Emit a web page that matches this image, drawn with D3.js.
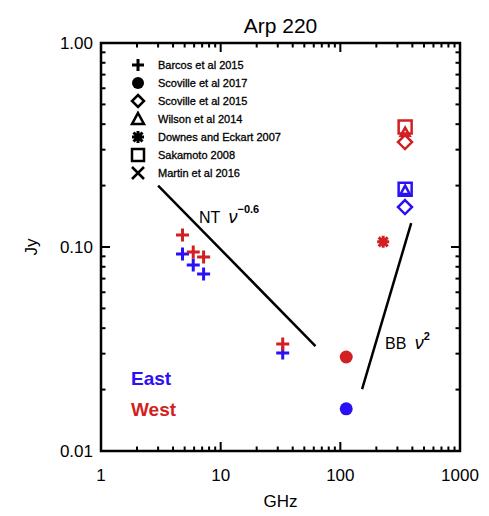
<!DOCTYPE html>
<html>
<head>
<meta charset="utf-8">
<script src="https://cdn.jsdelivr.net/npm/d3@7"></script>
<style>
  body { margin: 0; background: #fff; }
  svg text { font-family: "Liberation Sans", Arial, sans-serif; }
</style>
</head>
<body>
<div id="chart"></div>
<script>
/*
    ARP 220 SED
*/

// Barcos et al 2015 (VLA)
const barcosFreq = [4.8, 5.9, 7.2, 33]
const barcosEast = [0.0924, 0.0816, 0.0738, 0.0302]
const barcosWest = [0.1145, 0.0945, 0.0893, 0.0335]
// Scoville et al 2017
const scov17Freq = [112]
const scov17East = [0.0161]
const scov17West = [0.0289]
// Scoville et al 2015
const scov15Freq = [347]
const scov15East = [0.157]
const scov15West = [0.327]
// Wilson et al 2014
const wilsonFreq = [348]
const wilsonEast = [0.19]
const wilsonWest = [0.366]
// Downes and Eckart 2007 (west only)
const downesFreq = [228]
const downesWest = [0.106]
// Sakamoto 2008
const sakaFreq = [348]
const sakaEast = [0.192]
const sakaWest = [0.388]

// guide lines
const ntFreq = [3.0, 62]
const ntFlux = [0.2, 0.0327]
const bbFreq = [152, 391]
const bbFlux = [0.0201, 0.131]

const legendLabels = ["Barcos et al 2015", "Scoville et al 2017", "Scoville et al 2015",
    "Wilson et al 2014", "Downes and Eckart 2007", "Sakamoto 2008", "Martin et al 2016"]
const legendSymbols = ["plus", "circle", "diamond", "triangle", "asterisk", "square", "cross"]

const xTicks = [1, 10, 100, 1000]
const yTicks = [0.01, 0.1, 1]

const EAST = "#2a10f5", WEST = "#d21f22"

var width = 489, height = 516
const margin = ({ top: 43, right: 29, bottom: 65, left: 101 })

var svg = d3.select("#chart").append("svg")
    .attr("width", width)
    .attr("height", height)

var x = d3.scaleLog().domain([1, 1000]).range([margin.left, width - margin.right])
var y = d3.scaleLog().domain([0.01, 1]).range([height - margin.bottom, margin.top])

// symbol path generators (centered at 0,0)
const symbolPath = (type, s) => {
    switch (type) {
        case "plus": return `M${-s},0H${s}M0,${-s}V${s}`
        case "cross": return `M${-s},${-s}L${s},${s}M${-s},${s}L${s},${-s}`
        case "diamond": return `M0,${-s}L${s},0L0,${s}L${-s},0Z`
        case "square": return `M${-s},${-s}H${s}V${s}H${-s}Z`
        case "triangle": return `M0,${-s}L${s},${s * 0.85}H${-s}Z`
        case "asterisk": {
            let d = `M${-s},0H${s}M0,${-s}V${s}`
            const a = s * 0.75
            return d + `M${-a},${-a}L${a},${a}M${-a},${a}L${a},${-a}`
        }
    }
}

const drawSymbols = (type, freqs, fluxes, color, s) => {
    freqs.forEach((f, i) => {
        if (type === "circle") {
            svg.append("circle")
                .attr("cx", x(f)).attr("cy", y(fluxes[i]))
                .attr("r", s).attr("fill", color)
        } else {
            svg.append("path")
                .attr("transform", `translate(${x(f)},${y(fluxes[i])})`)
                .attr("d", symbolPath(type, s))
                .attr("fill", "none")
                .attr("stroke", color)
                .attr("stroke-width", type === "plus" || type === "asterisk" ? 3 : 2.5)
        }
    })
}

// frame
svg.append("rect")
    .attr("x", margin.left).attr("y", margin.top)
    .attr("width", width - margin.left - margin.right)
    .attr("height", height - margin.top - margin.bottom)
    .attr("fill", "none").attr("stroke", "#000").attr("stroke-width", 2.5)

// minor + major ticks, inside on all sides
const xMinor = [], yMinor = []
for (let d = 1; d < 1000; d *= 10) for (let k = 2; k <= 9; k++) xMinor.push(d * k)
for (let d = 0.01; d < 1; d *= 10) for (let k = 2; k <= 9; k++) yMinor.push(d * k)

const ticks = svg.append("g").attr("stroke", "#000").attr("stroke-width", 2)
const x0 = margin.left, x1 = width - margin.right
const y0 = height - margin.bottom, y1 = margin.top
xMinor.concat(xTicks).forEach(v => {
    const len = xTicks.includes(v) ? 9 : 4.5
    ticks.append("line").attr("x1", x(v)).attr("x2", x(v)).attr("y1", y0).attr("y2", y0 - len)
    ticks.append("line").attr("x1", x(v)).attr("x2", x(v)).attr("y1", y1).attr("y2", y1 + len)
})
yMinor.concat(yTicks).forEach(v => {
    const len = yTicks.includes(v) ? 9 : 4.5
    ticks.append("line").attr("y1", y(v)).attr("y2", y(v)).attr("x1", x0).attr("x2", x0 + len)
    ticks.append("line").attr("y1", y(v)).attr("y2", y(v)).attr("x1", x1).attr("x2", x1 - len)
})

// tick labels
svg.selectAll(".xlab").data(xTicks).enter().append("text")
    .attr("x", d => x(d)).attr("y", 481)
    .attr("text-anchor", "middle").style("font-size", "17px")
    .text(d => d)
svg.selectAll(".ylab").data(yTicks).enter().append("text")
    .attr("x", 93).attr("y", d => y(d) + 6)
    .attr("text-anchor", "end").style("font-size", "17px")
    .text(d => d3.format(".2f")(d))

// axis titles
svg.append("text").attr("x", (x0 + x1) / 2).attr("y", 507)
    .attr("text-anchor", "middle").style("font-size", "17px").text("GHz")
svg.append("text")
    .attr("transform", `translate(37,${y(0.1)}) rotate(-90)`)
    .attr("text-anchor", "middle").style("font-size", "17px").text("Jy")
svg.append("text").attr("x", (x0 + x1) / 2).attr("y", 33)
    .attr("text-anchor", "middle").style("font-size", "21px").text("Arp 220")

// guide lines
const line = d3.line().x(d => x(d[0])).y(d => y(d[1]))
svg.append("path").attr("d", line(d3.zip(ntFreq, ntFlux)))
    .attr("stroke", "#000").attr("stroke-width", 2.5).attr("fill", "none")
svg.append("path").attr("d", line(d3.zip(bbFreq, bbFlux)))
    .attr("stroke", "#000").attr("stroke-width", 2.5).attr("fill", "none")

// line labels
const nt = svg.append("text").attr("x", 199).attr("y", 223).style("font-size", "16px")
nt.append("tspan").text("NT ")
nt.append("tspan").attr("dx", 4).style("font-style", "italic").style("font-size", "18px").text("ν")
nt.append("tspan").attr("dy", -10).style("font-size", "11px").style("font-weight", "bold").text("−0.6")
const bb = svg.append("text").attr("x", 385).attr("y", 349).style("font-size", "16px")
bb.append("tspan").text("BB ")
bb.append("tspan").attr("dx", 4).style("font-style", "italic").style("font-size", "18px").text("ν")
bb.append("tspan").attr("dy", -9).style("font-size", "11px").style("font-weight", "bold").text("2")

// data points
drawSymbols("plus", barcosFreq, barcosEast, EAST, 6.5)
drawSymbols("plus", barcosFreq, barcosWest, WEST, 6.5)
drawSymbols("circle", scov17Freq, scov17East, EAST, 6.5)
drawSymbols("circle", scov17Freq, scov17West, WEST, 6.5)
drawSymbols("square", sakaFreq, sakaEast, EAST, 6.5)
drawSymbols("square", sakaFreq, sakaWest, WEST, 6.5)
drawSymbols("triangle", wilsonFreq, wilsonEast, EAST, 4.5)
drawSymbols("triangle", wilsonFreq, wilsonWest, WEST, 4.5)
drawSymbols("diamond", scov15Freq, scov15East, EAST, 7)
drawSymbols("diamond", scov15Freq, scov15West, WEST, 7)
drawSymbols("asterisk", downesFreq, downesWest, WEST, 6)

// legend
legendLabels.forEach((lab, i) => {
    const ly = 65 + i * 18
    const type = legendSymbols[i]
    if (type === "circle") {
        svg.append("circle").attr("cx", 138).attr("cy", ly).attr("r", 6).attr("fill", "#000")
    } else {
        svg.append("path")
            .attr("transform", `translate(138,${ly})`)
            .attr("d", symbolPath(type, 6))
            .attr("fill", "none").attr("stroke", "#000")
            .attr("stroke-width", type === "plus" || type === "asterisk" ? 3 : 2.5)
    }
    svg.append("text").attr("x", 158).attr("y", ly + 4)
        .style("font-size", "11px").style("stroke", "#000").style("stroke-width", 0.3)
        .text(lab)
})

// East / West
svg.append("text").attr("x", 131).attr("y", 385).attr("fill", EAST)
    .style("font-size", "19px").style("font-weight", "bold").text("East")
svg.append("text").attr("x", 131).attr("y", 416).attr("fill", WEST)
    .style("font-size", "19px").style("font-weight", "bold").text("West")
</script>
</body>
</html>
